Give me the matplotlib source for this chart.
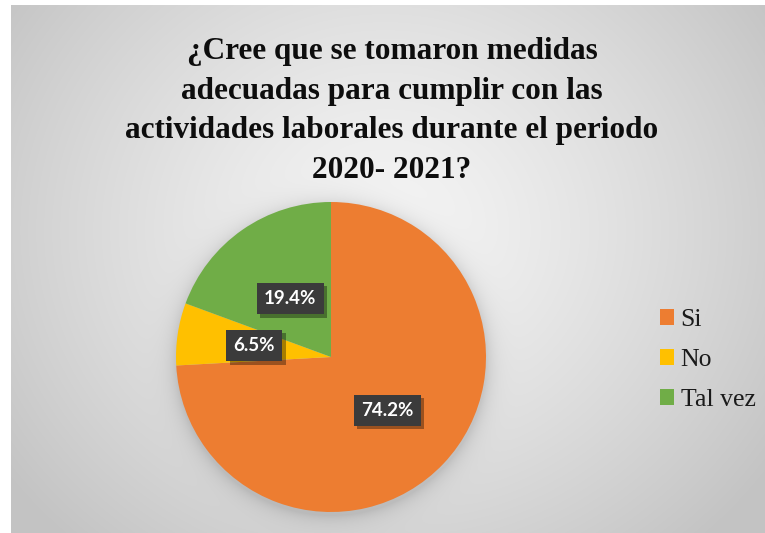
import numpy as np
import matplotlib
matplotlib.use("Agg")
import matplotlib.pyplot as plt
from matplotlib import patheffects

# Survey answers
categories = ["Si", "No", "Tal vez"]
percentages = [74.2, 6.5, 19.4]
colors = ["#ED7D31", "#FFC000", "#70AD47"]
title = ("¿Cree que se tomaron medidas\nadecuadas para cumplir con las\n"
         "actividades laborales durante el periodo\n2020- 2021?")

W, H, DPI = 765, 533, 100
fig = plt.figure(figsize=(W / DPI, H / DPI), dpi=DPI, facecolor="white")

# Chart area with radial gray gradient and soft pie shadow
x0, y0 = 11, 5  # left/top offset of chart area (px)
bg_ax = fig.add_axes([x0 / W, 0, (W - x0) / W, (H - y0) / H])
bg_ax.set_axis_off()
h, w = H - y0, W - x0
yy, xx = np.mgrid[0:h, 0:w]
cx, cy = 385 - x0, 230 - y0
r = np.sqrt(((xx - cx) / 1.0) ** 2 + ((yy - cy) / 0.9) ** 2)
t = np.clip(r / 470.0, 0, 1)
inner, outer = 0.96, 0.765
gray = inner + (outer - inner) * t ** 1.3
# pie shadow
pcx, pcy, pr = 331 - x0, 360 - y0, 155
d = np.sqrt((xx - pcx) ** 2 + (yy - pcy) ** 2)
shadow = np.where(d > pr, np.exp(-(d - pr) / 9.0), 1.0) * 0.13
gray = gray * (1 - shadow)
bg_ax.imshow(np.dstack([gray] * 3), extent=[0, w, h, 0], aspect="auto",
             interpolation="bilinear")
bg_ax.set_xlim(0, w)
bg_ax.set_ylim(h, 0)

# Pie
pie_cx, pie_cy, pie_r = 331, 357, 155
ax = fig.add_axes([(pie_cx - pie_r) / W, (H - pie_cy - pie_r) / H,
                   2 * pie_r / W, 2 * pie_r / H])
wedges, _ = ax.pie(percentages, colors=colors, startangle=90,
                   counterclock=False, radius=1.0,
                   wedgeprops=dict(linewidth=0))
ax.set_xlim(-1, 1)
ax.set_ylim(-1, 1)
ax.set_aspect("equal")

label_dist = [0.50, 0.50, 0.46]
for wdg, pct, dist in zip(wedges, percentages, label_dist):
    ang = np.deg2rad((wdg.theta1 + wdg.theta2) / 2)
    txt = ax.text(dist * np.cos(ang), dist * np.sin(ang), f"{pct}%",
                  ha="center", va="center", color="white", fontsize=13.5,
                  fontweight="bold", family="Lato",
                  bbox=dict(boxstyle="square,pad=0.38", fc="#3b3b3b",
                            ec="none"))
    txt.get_bbox_patch().set_path_effects([
        patheffects.withSimplePatchShadow(offset=(2.5, -2.5),
                                          shadow_rgbFace="black", alpha=0.35),
        patheffects.Normal()])

# Title
fig.text(392 / W, 1 - 111 / H, title, ha="center", va="center",
         fontsize=22.5, fontweight="bold", family="Liberation Serif",
         color="#0d0d0d", linespacing=1.48)

# Legend
leg = ax.legend(wedges, categories, loc="center left",
                bbox_to_anchor=((660 - (pie_cx - pie_r)) / (2 * pie_r),
                                (H - 360 - (H - pie_cy - pie_r)) / (2 * pie_r)),
                frameon=False, handlelength=0.55, handleheight=0.55,
                handletextpad=0.25, labelspacing=0.70, borderpad=0,
                borderaxespad=0,
                prop=dict(family="Liberation Serif", size=18.5))
for t_ in leg.get_texts():
    t_.set_color("#1a1a1a")

fig.savefig("out.png", dpi=DPI, facecolor="white")
